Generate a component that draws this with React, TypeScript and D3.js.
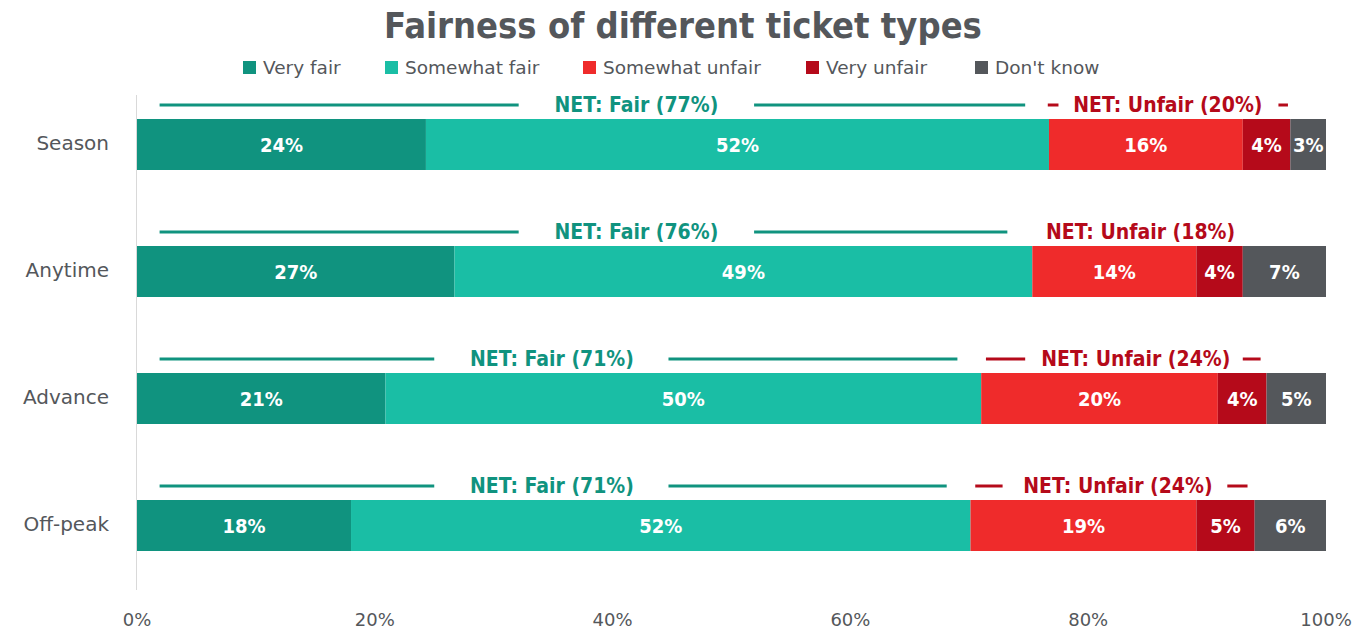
import React from "react";
import * as d3 from "d3";

const categories = ["Season", "Anytime", "Advance", "Off-peak"];
const seriesNames = ["Very fair", "Somewhat fair", "Somewhat unfair", "Very unfair", "Don't know"];
const seriesColors = ["#10937f", "#1abea5", "#ef2b2b", "#b50a1a", "#54575b"];
const veryFair = [24.3, 26.7, 20.9, 18.0];
const somewhatFair = [52.4, 48.6, 50.1, 52.1];
const somewhatUnfair = [16.3, 13.8, 19.9, 19.0];
const veryUnfair = [4.0, 3.9, 4.1, 4.9];
const dontKnow = [3.0, 7.0, 5.0, 6.0];
const netFair = [77, 76, 71, 71];
const netUnfair = [20, 18, 24, 24];
const xTicks = [0, 20, 40, 60, 80, 100];

// annotation bracket extents (in % of axis)
const fairLeft = [[1.9, 32.1], [1.9, 32.1], [1.9, 25.0], [1.9, 25.0]];
const fairRight = [[51.9, 74.7], [51.9, 73.2], [44.7, 69.0], [44.7, 68.1]];
const fairTextAt = [42.0, 42.0, 34.9, 34.9];
const unfairLeft = [[76.6, 77.5], null, [71.4, 74.7], [70.5, 72.8]];
const unfairRight = [[96.0, 96.8], null, [93.0, 94.5], [91.7, 93.4]];
const unfairTextAt = [86.7, 84.4, 84.0, 82.5];

const W = 1369, H = 631;
const FONT = "'DejaVu Sans Condensed', 'DejaVu Sans', sans-serif";
const FONT_R = "'DejaVu Sans', sans-serif";
const TXT = "#54575b";

export default function App() {
  const x = d3.scaleLinear().domain([0, 100]).range([137, 1326]);
  const pi = 76 / 127;
  const y = d3
    .scaleBand()
    .domain(categories)
    .range([119 - 0.5 * 127, 119 - 0.5 * 127 + 127 * (4 - pi + 1)])
    .paddingInner(pi)
    .paddingOuter(0.5);
  const series = [veryFair, somewhatFair, somewhatUnfair, veryUnfair, dontKnow];
  const rows = categories.map((c, i) => {
    const obj: any = { cat: c };
    seriesNames.forEach((s, k) => (obj[s] = series[k][i]));
    return obj;
  });
  const stacked = d3.stack().keys(seriesNames)(rows);
  const legendX = [243, 385, 583, 806, 975];

  return (
    <div style={{ position: "absolute", left: 0, top: 0 }}>
      <svg width={W} height={H} style={{ display: "block", background: "#fff" }}>
        <text x={683} y={38} textAnchor="middle" fontFamily={FONT} fontWeight="bold" fontSize={36} fill={TXT}>
          Fairness of different ticket types
        </text>
        {seriesNames.map((s, k) => (
          <g key={s} transform={`translate(${legendX[k]},0)`}>
            <rect x={0} y={61} width={13} height={13} fill={seriesColors[k]} />
            <text x={20} y={74} fontFamily={FONT_R} fontSize={18.5} fill={TXT}>{s}</text>
          </g>
        ))}
        <line x1={136.5} x2={136.5} y1={95} y2={590} stroke="#d9d9d9" strokeWidth={1} />
        {stacked.map((layer, k) => (
          <g key={layer.key}>
            {layer.map((d, i) => {
              const x0 = x(d[0]), x1 = x(d[1]);
              const yy = y(categories[i])!;
              const v = d[1] - d[0];
              return (
                <g key={i}>
                  <rect x={x0} y={yy} width={x1 - x0} height={y.bandwidth()} fill={seriesColors[k]} />
                  <text x={(x0 + x1) / 2} y={yy + y.bandwidth() / 2 + 7} textAnchor="middle" fontFamily={FONT} fontWeight="bold" fontSize={20} fill="#fff">
                    {Math.round(v)}%
                  </text>
                </g>
              );
            })}
          </g>
        ))}
        {categories.map((c, i) => {
          const yy = y(c)!;
          const ly = yy - 14;
          return (
            <g key={c}>
              <text x={109} y={yy + y.bandwidth() / 2 + 5} textAnchor="end" fontFamily={FONT_R} fontSize={20} fill={TXT}>{c}</text>
              <line x1={x(fairLeft[i][0])} x2={x(fairLeft[i][1])} y1={ly} y2={ly} stroke="#10937f" strokeWidth={3} />
              <line x1={x(fairRight[i][0])} x2={x(fairRight[i][1])} y1={ly} y2={ly} stroke="#10937f" strokeWidth={3} />
              <text x={x(fairTextAt[i])} y={ly + 7} textAnchor="middle" fontFamily={FONT} fontWeight="bold" fontSize={21} fill="#10937f">
                NET: Fair ({netFair[i]}%)
              </text>
              {unfairLeft[i] && (
                <line x1={x(unfairLeft[i]![0])} x2={x(unfairLeft[i]![1])} y1={ly} y2={ly} stroke="#b50a1a" strokeWidth={3} />
              )}
              {unfairRight[i] && (
                <line x1={x(unfairRight[i]![0])} x2={x(unfairRight[i]![1])} y1={ly} y2={ly} stroke="#b50a1a" strokeWidth={3} />
              )}
              <text x={x(unfairTextAt[i])} y={ly + 7} textAnchor="middle" fontFamily={FONT} fontWeight="bold" fontSize={21} fill="#b50a1a">
                NET: Unfair ({netUnfair[i]}%)
              </text>
            </g>
          );
        })}
        {xTicks.map((t) => (
          <text key={t} x={x(t)} y={626} textAnchor="middle" fontFamily={FONT_R} fontSize={18} fill={TXT}>{t}%</text>
        ))}
      </svg>
    </div>
  );
}
